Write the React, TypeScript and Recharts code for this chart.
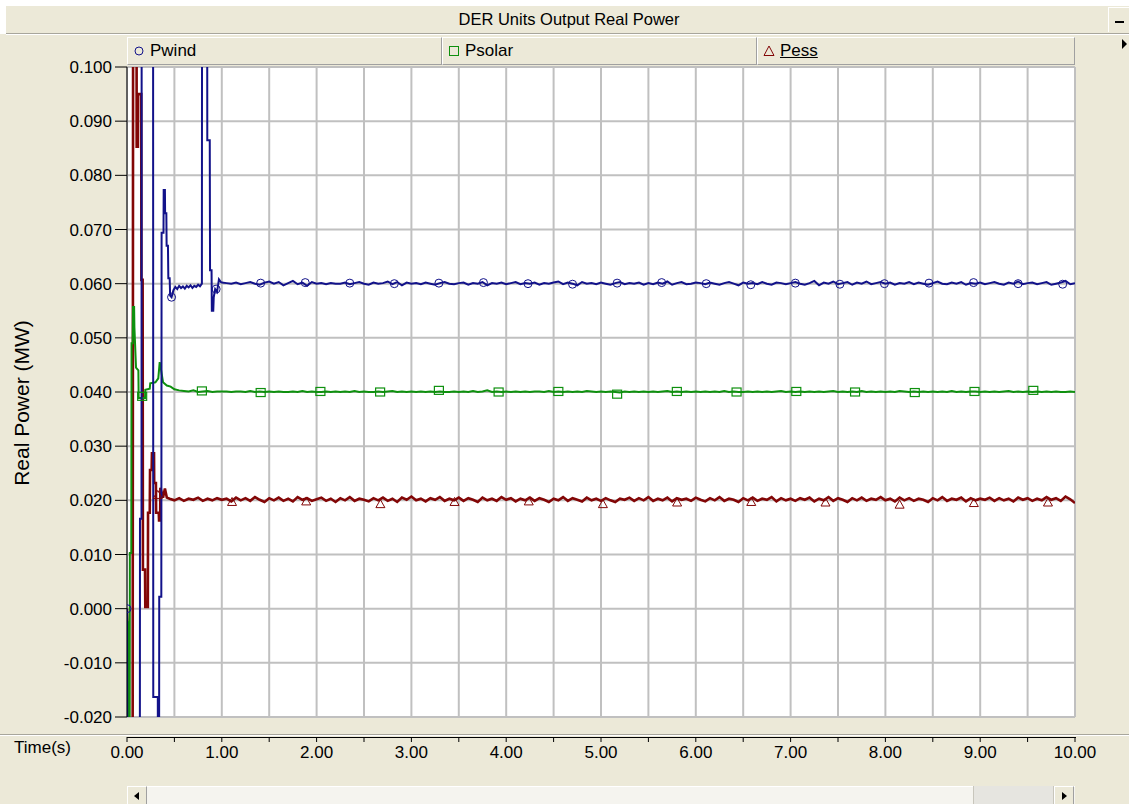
import React from 'react'
import { ComposedChart, Line, Scatter, XAxis, YAxis, CartesianGrid } from 'recharts'

// time (s) / power (MW), start-up transient
const windT = [0, 0.005, 0.135, 0.137, 0.153, 0.155, 0.275, 0.277, 0.325, 0.327, 0.338, 0.34, 0.362, 0.365, 0.385, 0.387, 0.4, 0.402, 0.415, 0.418, 0.432, 0.436, 0.45, 0.455, 0.47, 0.49, 0.51, 0.53, 0.55, 0.57, 0.59, 0.61, 0.63, 0.65, 0.67, 0.69, 0.71, 0.73, 0.75, 0.77, 0.79, 0.792, 0.845, 0.847, 0.873, 0.876, 0.892, 0.895, 0.91, 0.915, 0.93, 0.95, 0.97, 0.99, 1.0]
const windV = [0, -0.05, -0.05, 0.0166, 0.0166, 0.13, 0.13, -0.0163, -0.0163, -0.05, -0.05, 0.0022, 0.0022, 0.0694, 0.0694, 0.0773, 0.0773, 0.073, 0.073, 0.067, 0.067, 0.061, 0.061, 0.0578, 0.0575, 0.0588, 0.0594, 0.059, 0.0596, 0.0592, 0.0595, 0.0591, 0.0596, 0.0593, 0.0597, 0.0592, 0.0596, 0.0594, 0.0598, 0.0595, 0.06, 0.13, 0.13, 0.0865, 0.0865, 0.0625, 0.0625, 0.055, 0.055, 0.0575, 0.059, 0.0585, 0.0608, 0.0603, 0.0602]

const solarT = [0, 0.005, 0.012, 0.014, 0.028, 0.03, 0.045, 0.048, 0.06, 0.063, 0.075, 0.078, 0.095, 0.12, 0.123, 0.19, 0.193, 0.24, 0.245, 0.3, 0.33, 0.345, 0.36, 0.38, 0.42, 0.46, 0.5, 0.55, 0.6, 0.65, 0.7, 0.75, 0.8, 0.85, 0.9, 0.95, 1.0]
const solarV = [0, -0.0025, -0.0025, -0.04, -0.04, 0.0103, 0.0103, 0.049, 0.049, 0.0557, 0.0557, 0.052, 0.0445, 0.044, 0.0389, 0.0389, 0.0404, 0.0406, 0.0416, 0.0418, 0.0425, 0.0455, 0.044, 0.0418, 0.0412, 0.041, 0.0405, 0.0403, 0.0402, 0.0401, 0.0403, 0.04, 0.0401, 0.0402, 0.04, 0.0401, 0.0401]

const essT = [0, 0.005, 0.01, 0.058, 0.06, 0.065, 0.1, 0.102, 0.115, 0.117, 0.15, 0.152, 0.165, 0.168, 0.19, 0.193, 0.22, 0.222, 0.24, 0.243, 0.26, 0.263, 0.285, 0.287, 0.305, 0.307, 0.335, 0.338, 0.35, 0.352, 0.38, 0.4, 0.42, 0.45, 0.5, 0.55, 0.6, 0.65, 0.7, 0.75, 0.8, 0.85, 0.9, 0.95, 1.0]
const essV = [0, -0.0036, -0.05, -0.05, -0.016, 0.13, 0.13, 0.0853, 0.0853, 0.095, 0.095, 0.0607, 0.0607, 0.0072, 0.0072, 0.0003, 0.0003, 0.0177, 0.0177, 0.0256, 0.0256, 0.0287, 0.0287, 0.0232, 0.0232, 0.0177, 0.0177, 0.0163, 0.0163, 0.0223, 0.0205, 0.0222, 0.0205, 0.0203, 0.02, 0.0204, 0.0199, 0.0203, 0.0201, 0.0205, 0.0199, 0.0203, 0.02, 0.0204, 0.0201]

// steady state, one reading every 0.05 s from 1.05 s to 10.00 s
const steadyT = Array.from({ length: 180 }, (_, i) => +(1.05 + i * 0.05).toFixed(2))
const windSteady = [
  0.0601, 0.06, 0.0602, 0.0599, 0.0601, 0.0603, 0.06, 0.0598, 0.0602, 0.0604,
  0.06, 0.0603, 0.0597, 0.0601, 0.0605, 0.0599, 0.0602, 0.0596, 0.0603, 0.06,
  0.0601, 0.0599, 0.0601, 0.06, 0.06, 0.0602, 0.0599, 0.0601, 0.0603, 0.06,
  0.0598, 0.0602, 0.06, 0.0601, 0.0604, 0.0599, 0.0603, 0.0597, 0.0602, 0.06,
  0.0601, 0.0599, 0.0602, 0.06, 0.0598, 0.0601, 0.0603, 0.06, 0.0599, 0.0601,
  0.0602, 0.0598, 0.0601, 0.06, 0.0603, 0.0597, 0.0601, 0.06, 0.0602, 0.0599,
  0.0601, 0.0603, 0.0599, 0.0601, 0.06, 0.0602, 0.0598, 0.0601, 0.06, 0.0602,
  0.0604, 0.0599, 0.0602, 0.06, 0.0597, 0.0603, 0.06, 0.0601, 0.0599, 0.0602,
  0.06, 0.0598, 0.0601, 0.0603, 0.0599, 0.0601, 0.06, 0.0602, 0.0598, 0.0601,
  0.0599, 0.0602, 0.06, 0.0604, 0.0598, 0.0601, 0.0603, 0.0599, 0.06, 0.0602,
  0.0601, 0.0599, 0.0602, 0.06, 0.0598, 0.0601, 0.0603, 0.06, 0.0597, 0.0602,
  0.06, 0.0601, 0.0599, 0.0603, 0.06, 0.0598, 0.0602, 0.0601, 0.0599, 0.0601,
  0.0603, 0.06, 0.0598, 0.0601, 0.0605, 0.0597, 0.0602, 0.06, 0.0604, 0.0599,
  0.0601, 0.0603, 0.0598, 0.0602, 0.06, 0.0604, 0.0599, 0.0601, 0.0603, 0.06,
  0.0602, 0.0598, 0.0601, 0.06, 0.0603, 0.0599, 0.0602, 0.06, 0.0598, 0.0601,
  0.0604, 0.06, 0.0599, 0.0602, 0.06, 0.0603, 0.0598, 0.0601, 0.06, 0.0602,
  0.0599, 0.0601, 0.0603, 0.06, 0.0598, 0.0602, 0.06, 0.0604, 0.0599, 0.0601,
  0.0602, 0.0599, 0.0601, 0.0603, 0.0598, 0.06, 0.0602, 0.0605, 0.0599, 0.0601,
]
const solarSteady = [
  0.0401, 0.04, 0.0401, 0.0401, 0.04, 0.0402, 0.04, 0.0401, 0.04, 0.0401,
  0.04, 0.0401, 0.04, 0.04, 0.0401, 0.04, 0.0402, 0.04, 0.0401, 0.04,
  0.04, 0.0401, 0.04, 0.0401, 0.04, 0.0401, 0.04, 0.0402, 0.04, 0.0401,
  0.04, 0.04, 0.0401, 0.04, 0.0401, 0.0402, 0.04, 0.0401, 0.04, 0.0401,
  0.04, 0.0401, 0.04, 0.0401, 0.04, 0.0401, 0.04, 0.04, 0.0401, 0.04,
  0.0401, 0.04, 0.0402, 0.04, 0.0401, 0.0403, 0.04, 0.0401, 0.04, 0.0401,
  0.04, 0.0401, 0.04, 0.0401, 0.04, 0.0401, 0.0401, 0.04, 0.0402, 0.04,
  0.0401, 0.04, 0.0401, 0.04, 0.0401, 0.04, 0.0402, 0.0401, 0.04, 0.0401,
  0.04, 0.0401, 0.04, 0.0399, 0.0401, 0.04, 0.0401, 0.04, 0.0401, 0.04,
  0.0401, 0.04, 0.0401, 0.0402, 0.04, 0.0401, 0.04, 0.0401, 0.04, 0.0401,
  0.04, 0.0401, 0.04, 0.0401, 0.04, 0.0402, 0.04, 0.0401, 0.04, 0.04,
  0.0401, 0.04, 0.0401, 0.04, 0.0401, 0.04, 0.0401, 0.0402, 0.04, 0.0401,
  0.04, 0.0401, 0.04, 0.0401, 0.04, 0.0401, 0.04, 0.0401, 0.0402, 0.04,
  0.0401, 0.04, 0.0401, 0.04, 0.0402, 0.04, 0.0401, 0.04, 0.0401, 0.04,
  0.0401, 0.04, 0.0402, 0.0401, 0.04, 0.0401, 0.04, 0.0401, 0.04, 0.0401,
  0.04, 0.0401, 0.04, 0.0402, 0.04, 0.0401, 0.04, 0.0401, 0.0401, 0.04,
  0.0401, 0.04, 0.0401, 0.04, 0.0401, 0.0402, 0.04, 0.0401, 0.04, 0.0401,
  0.04, 0.0401, 0.04, 0.0401, 0.04, 0.0401, 0.04, 0.04, 0.0401, 0.04,
]
const essSteady = [
  0.0203, 0.0198, 0.0205, 0.02, 0.0204, 0.0199, 0.0206, 0.0201, 0.0197, 0.0204,
  0.02, 0.0205, 0.0199, 0.0203, 0.0198, 0.0206, 0.0201, 0.0204, 0.0199, 0.0202,
  0.0205, 0.0199, 0.0203, 0.0197, 0.0204, 0.02, 0.0206, 0.0199, 0.0203, 0.0201,
  0.0198, 0.0204, 0.02, 0.0205, 0.0199, 0.0203, 0.0197, 0.0205, 0.0201, 0.0207,
  0.02, 0.0203, 0.0198, 0.0204, 0.0201, 0.0206, 0.0199, 0.0203, 0.02, 0.0205,
  0.0199, 0.0204, 0.0201, 0.0197, 0.0205, 0.02, 0.0203, 0.0199, 0.0206, 0.0201,
  0.0204, 0.0198, 0.0203, 0.02, 0.0205, 0.0199, 0.0204, 0.0201, 0.0197, 0.0203,
  0.02, 0.0206, 0.0199, 0.0204, 0.0201, 0.0198, 0.0205, 0.02, 0.0203, 0.0199,
  0.0204, 0.02, 0.0197, 0.0203, 0.0201, 0.0205, 0.0199, 0.0204, 0.02, 0.0206,
  0.0199, 0.0203, 0.02, 0.0205, 0.0198, 0.0204, 0.0201, 0.0203, 0.0199, 0.0205,
  0.0201, 0.0198, 0.0204, 0.02, 0.0206, 0.0199, 0.0203, 0.0201, 0.0197, 0.0204,
  0.02, 0.0205, 0.0199, 0.0203, 0.0201, 0.0206, 0.0198, 0.0204, 0.02, 0.0203,
  0.0199, 0.0204, 0.0201, 0.0205, 0.0198, 0.0203, 0.02, 0.0206, 0.0199, 0.0204,
  0.0201, 0.0197, 0.0204, 0.02, 0.0205, 0.0199, 0.0203, 0.0201, 0.0206, 0.02,
  0.0203, 0.0198, 0.0205, 0.02, 0.0204, 0.0199, 0.0203, 0.0201, 0.0197, 0.0204,
  0.02, 0.0206, 0.0199, 0.0203, 0.0201, 0.0205, 0.0198, 0.0204, 0.02, 0.0203,
  0.0201, 0.0205, 0.0199, 0.0204, 0.02, 0.0203, 0.0198, 0.0205, 0.0201, 0.0204,
  0.0199, 0.0203, 0.02, 0.0206, 0.0201, 0.0204, 0.0199, 0.0207, 0.0202, 0.0195,
]

// plot markers (PSCAD draws one every n samples)
const windMarkT = [0, 0.47, 0.94, 1.41, 1.88, 2.35, 2.82, 3.29, 3.76, 4.23, 4.7, 5.17, 5.64, 6.11, 6.58, 7.05, 7.52, 7.99, 8.46, 8.93, 9.4, 9.87]
const windMarkV = [0, 0.0575, 0.059, 0.0601, 0.0602, 0.0601, 0.06, 0.0601, 0.0602, 0.06, 0.0599, 0.0601, 0.0602, 0.06, 0.0598, 0.0601, 0.0599, 0.06, 0.0601, 0.0602, 0.06, 0.0599]
const solarMarkT = [0.16, 0.79, 1.41, 2.04, 2.67, 3.29, 3.92, 4.55, 5.17, 5.8, 6.43, 7.06, 7.68, 8.31, 8.94, 9.56]
const solarMarkV = [0.0392, 0.0402, 0.0399, 0.0401, 0.04, 0.0403, 0.04, 0.0401, 0.0396, 0.0401, 0.04, 0.0401, 0.04, 0.0399, 0.0401, 0.0403]
const essMarkT = [0.325, 1.108, 1.89, 2.673, 3.455, 4.238, 5.02, 5.803, 6.585, 7.368, 8.15, 8.933, 9.715]
const essMarkV = [0.021, 0.0197, 0.0198, 0.0193, 0.0197, 0.0198, 0.0193, 0.0196, 0.0197, 0.0196, 0.0192, 0.0195, 0.0196]

const xTicks = [0, 0.5, 1, 1.5, 2, 2.5, 3, 3.5, 4, 4.5, 5, 5.5, 6, 6.5, 7, 7.5, 8, 8.5, 9, 9.5, 10]
const yTicks = [-0.02, -0.01, 0, 0.01, 0.02, 0.03, 0.04, 0.05, 0.06, 0.07, 0.08, 0.09, 0.1]

const series = (t: number[], v: number[], st: number[], sv: number[]) => [
  ...t.map((x, i) => ({ t: x, v: v[i] })),
  ...st.map((x, i) => ({ t: x, v: sv[i] })),
]
const marks = (t: number[], v: number[]) => t.map((x, i) => ({ t: x, v: v[i] }))

const windData = series(windT, windV, steadyT, windSteady)
const solarData = series(solarT, solarV, steadyT, solarSteady)
const essData = series(essT, essV, steadyT, essSteady)

const BEIGE = '#ECE9D8'
const WIND = '#12128A'
const SOLAR = '#0E900E'
const ESS = '#820606'
const FONT = '"Liberation Sans", Arial, sans-serif'
const AXIS_Y = 737

function TimeTick({ x, payload }: any) {
  const v = payload.value as number
  const major = Math.abs(v - Math.round(v)) < 1e-6
  return (
    <g>
      <line x1={x} x2={x} y1={AXIS_Y} y2={AXIS_Y + 5} stroke="#000" />
      {major && (
        <text x={x} y={AXIS_Y + 21} textAnchor="middle" fontSize={17} fontFamily={FONT} fill="#000">
          {v.toFixed(2)}
        </text>
      )}
    </g>
  )
}

const circleShape = (p: any) => <circle cx={p.cx} cy={p.cy} r={4} fill="none" stroke={WIND} strokeWidth={1} />
const squareShape = (p: any) => <rect x={p.cx - 4.5} y={p.cy - 4} width={9} height={8} fill="none" stroke={SOLAR} strokeWidth={1.2} />
const triShape = (p: any) => (
  <path d={`M${p.cx},${p.cy - 4.5}L${p.cx + 4.5},${p.cy + 3.5}L${p.cx - 4.5},${p.cy + 3.5}Z`} fill="none" stroke={ESS} strokeWidth={1} />
)

function LegendCell({ left, width, label, marker, underline }: any) {
  return (
    <div
      style={{
        position: 'absolute', left, top: 37, width, height: 28, boxSizing: 'border-box',
        borderTop: '1px solid #fff', borderLeft: '1px solid #fff',
        borderRight: '1px solid #A0A0A0', borderBottom: '1px solid #A0A0A0',
        display: 'flex', alignItems: 'center', paddingLeft: 5, fontSize: 17, color: '#000',
      }}
    >
      <svg width={12} height={12} style={{ marginRight: 5 }}>{marker}</svg>
      <span style={{ textDecoration: underline ? 'underline' : 'none' }}>{label}</span>
    </div>
  )
}

export default function App() {
  return (
    <div style={{ position: 'absolute', left: 0, top: 0, width: 1129, height: 804, background: BEIGE, fontFamily: FONT, overflow: 'hidden' }}>
      {/* window frame + title bar */}
      <div style={{ position: 'absolute', left: 0, top: 0, width: 1129, height: 6, background: '#fff' }} />
      <div style={{ position: 'absolute', left: 0, top: 0, width: 6, height: 34, background: '#fff' }} />
      <div style={{ position: 'absolute', left: 6, top: 33, width: 1123, height: 1, background: '#A8A69C' }} />
      <div style={{ position: 'absolute', left: 6, top: 34, width: 1123, height: 1, background: '#fff' }} />
      <div style={{ position: 'absolute', left: 6, top: 6, width: 1126, height: 27, display: 'flex', alignItems: 'center', justifyContent: 'center', fontSize: 16.5, color: '#000' }}>
        DER Units Output Real Power
      </div>
      <div style={{ position: 'absolute', left: 1108, top: 7, width: 21, height: 25, background: BEIGE, borderLeft: '1px solid #fff', borderTop: '1px solid #fff', boxSizing: 'border-box' }}>
        <div style={{ position: 'absolute', left: 6, top: 13, width: 9, height: 2, background: '#000' }} />
      </div>

      {/* legend strip */}
      <LegendCell left={127} width={315} label="Pwind" marker={<circle cx={6} cy={6} r={4} fill="none" stroke={WIND} />} />
      <LegendCell left={442} width={315} label="Psolar" marker={<rect x={1.5} y={1.5} width={9} height={9} fill="none" stroke={SOLAR} />} />
      <LegendCell left={757} width={318} label="Pess" underline marker={<path d="M6,1L11,10.5L1,10.5Z" fill="none" stroke={ESS} />} />
      <svg style={{ position: 'absolute', left: 1122, top: 39 }} width={7} height={10}>
        <path d="M0,0L5,5L0,10Z" fill="#000" />
      </svg>

      {/* y label */}
      <div style={{ position: 'absolute', left: 22, top: 403, transform: 'translate(-50%, -50%) rotate(-90deg)', whiteSpace: 'nowrap', fontSize: 21, color: '#000' }}>
        Real Power (MW)
      </div>

      <div style={{ position: 'absolute', left: 0, top: 0 }}>
        <ComposedChart width={1129} height={804} margin={{ top: 67, right: 54, bottom: 0, left: 0 }}>
          <CartesianGrid stroke="#C0C0C0" strokeWidth={2} fill="#fff" fillOpacity={1} />
          <XAxis
            dataKey="t" type="number" domain={[0, 10]} ticks={xTicks} interval={0} allowDataOverflow
            height={87} axisLine={false} tickLine={false} tickSize={0} tick={<TimeTick />}
          />
          <YAxis
            dataKey="v" type="number" domain={[-0.02, 0.1]} ticks={yTicks} interval={0} allowDataOverflow
            width={127} tickSize={12} tickMargin={3} stroke="#000"
            tick={{ fill: '#000', fontSize: 17, fontFamily: FONT }}
            tickFormatter={(v: number) => v.toFixed(3)}
          />
          <Line data={essData} dataKey="v" type="linear" stroke={ESS} strokeWidth={2.6} dot={false} isAnimationActive={false} />
          <Line data={solarData} dataKey="v" type="linear" stroke={SOLAR} strokeWidth={2} dot={false} isAnimationActive={false} />
          <Line data={windData} dataKey="v" type="linear" stroke={WIND} strokeWidth={2} dot={false} isAnimationActive={false} />
          <Scatter data={marks(essMarkT, essMarkV)} dataKey="v" shape={triShape} isAnimationActive={false} />
          <Scatter data={marks(solarMarkT, solarMarkV)} dataKey="v" shape={squareShape} isAnimationActive={false} />
          <Scatter data={marks(windMarkT, windMarkV)} dataKey="v" shape={circleShape} isAnimationActive={false} />
        </ComposedChart>
      </div>

      {/* x axis strip */}
      <div style={{ position: 'absolute', left: 0, top: 734, width: 1129, height: 1, background: '#A8A69C' }} />
      <div style={{ position: 'absolute', left: 0, top: 735, width: 1129, height: 1, background: '#fff' }} />
      <div style={{ position: 'absolute', left: 127, top: AXIS_Y, width: 949, height: 1, background: '#000' }} />
      <div style={{ position: 'absolute', left: 14, top: 738, fontSize: 17, color: '#000' }}>Time(s)</div>

      {/* scrollbar */}
      <div style={{ position: 'absolute', left: 127, top: 786, width: 948, height: 18, background: '#F5F4EF', borderTop: '1px solid #fff' }} />
      <div style={{ position: 'absolute', left: 127, top: 786, width: 20, height: 18, background: BEIGE, borderLeft: '1px solid #fff', borderTop: '1px solid #fff', borderRight: '1px solid #A0A0A0', boxSizing: 'border-box' }}>
        <svg width={18} height={18}><path d="M11,5L6,9L11,13Z" fill="#000" /></svg>
      </div>
      <div style={{ position: 'absolute', left: 973, top: 786, width: 81, height: 18, background: '#E6E5E0', borderLeft: '1px solid #C8C6BC', borderRight: '1px solid #C8C6BC', boxSizing: 'border-box' }} />
      <div style={{ position: 'absolute', left: 1054, top: 786, width: 20, height: 18, background: BEIGE, borderLeft: '1px solid #fff', borderTop: '1px solid #fff', borderRight: '1px solid #A0A0A0', boxSizing: 'border-box' }}>
        <svg width={18} height={18}><path d="M7,5L12,9L7,13Z" fill="#000" /></svg>
      </div>
    </div>
  )
}
